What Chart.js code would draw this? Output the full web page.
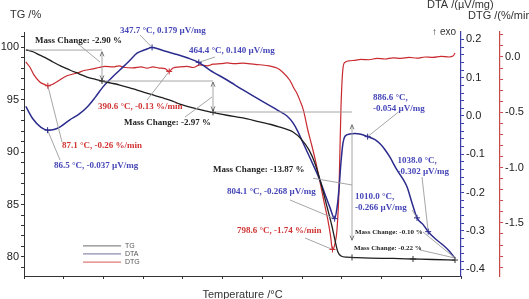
<!DOCTYPE html>
<html>
<head>
<meta charset="utf-8">
<script src="https://cdn.jsdelivr.net/npm/chart.js@4.4.1/dist/chart.umd.min.js"></script>
<style>
  html, body { margin: 0; padding: 0; background: #fff; }
  #wrap { width: 529px; height: 299px; }
</style>
</head>
<body>
<div id="wrap"><canvas id="chart" width="529" height="299"></canvas></div>
<script>
// TG curve (mass %, left axis)
const tgTemp = [32, 50, 67, 85, 100, 120, 142, 165, 185, 205, 222, 245, 267, 290, 310, 330, 350, 370, 392, 417, 450, 497, 535, 575, 617, 645, 667, 685, 700, 720, 740, 755, 770, 785, 797, 805, 812, 820, 835, 860, 892, 950, 1000, 1050, 1105];
const tgValue = [99.72, 99.55, 99.22, 98.9, 98.57, 98.18, 97.81, 97.45, 97.14, 96.93, 96.76, 96.57, 96.38, 96.14, 95.9, 95.66, 95.43, 95.2, 94.95, 94.57, 94.2, 93.78, 93.5, 93.24, 92.86, 92.62, 92.38, 92.15, 91.9, 91.25, 90.2, 88.9, 87.0, 84.8, 83.0, 81.6, 80.5, 80.1, 79.98, 79.94, 79.9, 79.86, 79.81, 79.76, 79.71];

// DTA curve (µV/mg, first right axis)
const dtaTemp = [32, 50, 70, 87, 100, 117, 142, 165, 185, 205, 225, 245, 267, 290, 310, 330, 348, 375, 405, 435, 464, 492, 535, 575, 617, 660, 685, 700, 712, 725, 745, 767, 782, 792, 804, 810, 815, 820, 825, 830, 842, 855, 867, 887, 905, 917, 930, 942, 960, 975, 985, 997, 1010, 1025, 1038, 1055, 1075, 1090, 1105];
const dtaValue = [0.025, -0.008, -0.03, -0.037, -0.036, -0.029, -0.01, 0.005, 0.023, 0.048, 0.076, 0.098, 0.12, 0.143, 0.164, 0.173, 0.179, 0.171, 0.162, 0.152, 0.14, 0.12, 0.094, 0.068, 0.042, 0.016, 0.0, -0.018, -0.04, -0.07, -0.115, -0.167, -0.21, -0.238, -0.268, -0.24, -0.19, -0.12, -0.07, -0.053, -0.047, -0.046, -0.047, -0.054, -0.062, -0.072, -0.088, -0.107, -0.141, -0.165, -0.185, -0.225, -0.266, -0.283, -0.302, -0.32, -0.337, -0.352, -0.371];

// DTG curve (%/min, second right axis)
const dtgTemp = [32, 42, 52, 67, 80, 87, 100, 117, 135, 160, 180, 200, 215, 230, 250, 265, 280, 300, 320, 335, 350, 365, 380, 390, 400, 417, 435, 450, 467, 485, 500, 520, 535, 555, 575, 595, 617, 640, 660, 675, 692, 702, 710, 717, 726, 737, 747, 757, 767, 777, 787, 794, 798.6, 804, 810, 815, 820, 825, 830, 840, 855, 870, 890, 910, 930, 950, 970, 990, 1010, 1030, 1050, 1070, 1090, 1100, 1105];
const dtgValue = [-0.045, -0.09, -0.16, -0.226, -0.25, -0.26, -0.245, -0.208, -0.17, -0.145, -0.12, -0.108, -0.095, -0.085, -0.09, -0.08, -0.095, -0.099, -0.09, -0.1, -0.09, -0.1, -0.105, -0.13, -0.1, -0.09, -0.085, -0.095, -0.072, -0.08, -0.065, -0.06, -0.054, -0.06, -0.055, -0.062, -0.07, -0.08, -0.1, -0.14, -0.21, -0.28, -0.33, -0.39, -0.48, -0.66, -0.8, -0.95, -1.12, -1.3, -1.47, -1.62, -1.74, -1.7, -1.56, -1.2, -0.45, -0.1, -0.048, -0.035, -0.03, -0.022, -0.025, -0.012, -0.018, -0.008, -0.012, -0.004, -0.01, 0.0, -0.004, 0.005, 0.0, 0.008, 0.035];

const xTicks = [200, 400, 600, 800, 1000];

const BLACK = '#1e1e1e';
const BLUE = '#2c2c8e';
const RED = '#c92a30';
const BLUE_TEXT = '#4646b8';
const RED_TEXT = '#d03434';
const GUIDE = '#9c9c9c';

// peak labels: text position in (temperature, TG) units, leader start, marked point on its own axis
const notes = [
  { lines: ['347.7 °C, 0.179 µV/mg'], color: BLUE_TEXT, at: [267.5, 101.52], lead: [317.5, 101.14], mark: [347.7, 0.179], axis: 'yDTA' },
  { lines: ['464.4 °C, 0.140 µV/mg'], color: BLUE_TEXT, at: [440, 99.62], lead: [505, 99.05], mark: [464.4, 0.140], axis: 'yDTA' },
  { lines: ['390.6 °C, -0.13 %/min'], color: RED_TEXT, at: [212.5, 94.29], lead: [335, 94.95], mark: [390.6, -0.13], axis: 'yDTG' },
  { lines: ['87.1 °C, -0.26 %/min'], color: RED_TEXT, at: [122.5, 90.57], lead: [122.5, 90.95], mark: [87.1, -0.26], axis: 'yDTG' },
  { lines: ['86.5 °C, -0.037 µV/mg'], color: BLUE_TEXT, at: [102.5, 88.67], lead: [117.5, 89.24], mark: [86.5, -0.037], axis: 'yDTA' },
  { lines: ['804.1 °C, -0.268 µV/mg'], color: BLUE_TEXT, at: [535, 86.19], lead: [692.5, 85.43], mark: [804.1, -0.268], axis: 'yDTA' },
  { lines: ['798.6 °C, -1.74 %/min'], color: RED_TEXT, at: [560, 82.48], lead: [730, 81.81], mark: [798.6, -1.74], axis: 'yDTG' },
  { lines: ['886.6 °C,', '-0.054 µV/mg'], color: BLUE_TEXT, at: [900, 95.14], lead: [970, 94.0], mark: [886.6, -0.054], axis: 'yDTA' },
  { lines: ['1010.0 °C,', '-0.266 µV/mg'], color: BLUE_TEXT, at: [855, 85.71], lead: [997.5, 84.48], mark: [1010.0, -0.266], axis: 'yDTA' },
  { lines: ['1038.0 °C,', '-0.302 µV/mg'], color: BLUE_TEXT, at: [961, 89.14], lead: [1022.5, 87.62], mark: [1038.0, -0.302], axis: 'yDTA' },
];

// mass change labels and their guide lines, all in (temperature, TG) units
const massNotes = [
  { text: 'Mass Change: -2.90 %', at: [55, 100.57], size: 9 },
  { text: 'Mass Change: -2.97 %', at: [277.5, 92.76], size: 9 },
  { text: 'Mass Change: -13.87 %', at: [500, 88.29], size: 9 },
  { text: 'Mass Change: -0.10 %', at: [855, 82.38], size: 7 },
  { text: 'Mass Change: -0.22 %', at: [852.5, 80.86], size: 7 },
];
const guides = [
  { from: [37.5, 99.71], to: [222.5, 99.71] },
  { from: [222.5, 99.55], to: [222.5, 96.85], both: true },
  { from: [222.5, 96.76], to: [500, 96.76] },
  { from: [500, 96.66], to: [500, 93.9], both: true },
  { from: [500, 93.81], to: [847.5, 93.81] },
  { from: [847.5, 92.6], to: [847.5, 81.6], both: true },
  { from: [160, 100.38], to: [217.5, 98.57] },
  { from: [430, 93.33], to: [497.5, 95.24] },
  { from: [750, 87.5], to: [847.5, 86.86] },
  { from: [1025, 82.38], to: [1105, 79.9] },
  { from: [1017.5, 80.67], to: [1105, 79.9] },
];
const tgMarks = [[222.5, 96.76], [500, 93.78], [847.5, 79.96], [1000, 79.81], [1105, 79.71]];

const legendItems = [
  { label: 'TG', color: '#8a8a8a', y: 81.05 },
  { label: 'DTA', color: '#8c8cb0', y: 80.29 },
  { label: 'DTG', color: '#e07a7a', y: 79.52 },
];

function toPoints(xs, ys) {
  return xs.map((x, i) => ({ x, y: ys[i] }));
}

function cross(ctx, x, y, color) {
  ctx.strokeStyle = color;
  ctx.lineWidth = 1;
  ctx.beginPath();
  ctx.moveTo(x - 3, y); ctx.lineTo(x + 3, y);
  ctx.moveTo(x, y - 3); ctx.lineTo(x, y + 3);
  ctx.stroke();
}

function arrowHead(ctx, x1, y1, x2, y2) {
  const a = Math.atan2(y2 - y1, x2 - x1);
  ctx.beginPath();
  ctx.moveTo(x2, y2);
  ctx.lineTo(x2 - 5 * Math.cos(a - 0.4), y2 - 5 * Math.sin(a - 0.4));
  ctx.moveTo(x2, y2);
  ctx.lineTo(x2 - 5 * Math.cos(a + 0.4), y2 - 5 * Math.sin(a + 0.4));
  ctx.stroke();
}

const notesPlugin = {
  id: 'notes',
  afterDraw(chart) {
    const { ctx, chartArea } = chart;
    const sx = chart.scales.x;
    const ty = chart.scales.yTG;
    const px = (t) => sx.getPixelForValue(t);
    const py = (v) => ty.getPixelForValue(v);
    ctx.save();

    // guides
    ctx.strokeStyle = GUIDE;
    ctx.lineWidth = 0.9;
    for (const g of guides) {
      const x1 = px(g.from[0]), y1 = py(g.from[1]), x2 = px(g.to[0]), y2 = py(g.to[1]);
      ctx.beginPath(); ctx.moveTo(x1, y1); ctx.lineTo(x2, y2); ctx.stroke();
      if (g.both) {
        ctx.strokeStyle = '#666';
        arrowHead(ctx, x1, y1, x2, y2);
        arrowHead(ctx, x2, y2, x1, y1);
        ctx.strokeStyle = GUIDE;
      }
    }

    // leaders + peak marks
    for (const n of notes) {
      const ax = chart.scales[n.axis];
      const mx = px(n.mark[0]), my = ax.getPixelForValue(n.mark[1]);
      ctx.strokeStyle = GUIDE;
      ctx.lineWidth = 0.9;
      ctx.beginPath(); ctx.moveTo(px(n.lead[0]), py(n.lead[1])); ctx.lineTo(mx, my); ctx.stroke();
      cross(ctx, mx, my, n.axis === 'yDTA' ? BLUE : RED);
    }
    for (const m of tgMarks) cross(ctx, px(m[0]), py(m[1]), '#333');

    // label texts
    ctx.textBaseline = 'middle';
    ctx.textAlign = 'left';
    for (const n of notes) {
      ctx.fillStyle = n.color;
      ctx.font = 'bold 9px "Liberation Serif"';
      n.lines.forEach((line, i) => ctx.fillText(line, px(n.at[0]), py(n.at[1]) + i * 10.5));
    }
    for (const m of massNotes) {
      ctx.fillStyle = '#222';
      ctx.font = `bold ${m.size}px "Liberation Serif"`;
      ctx.fillText(m.text, px(m.at[0]), py(m.at[1]));
    }

    // legend
    ctx.font = '7px "Liberation Sans"';
    for (const item of legendItems) {
      const y = py(item.y);
      ctx.strokeStyle = item.color;
      ctx.lineWidth = 1.2;
      ctx.beginPath(); ctx.moveTo(px(175), y); ctx.lineTo(px(270), y); ctx.stroke();
      ctx.fillStyle = '#555';
      ctx.fillText(item.label, px(280), y);
    }

    // axis titles
    ctx.fillStyle = '#333';
    ctx.font = '11px "Liberation Sans"';
    ctx.fillText('TG /%', 10, 15);
    ctx.fillText('DTA /(µV/mg)', 427, 5);
    ctx.fillText('DTG /(%/min)', 468, 16);
    ctx.font = '10px "Liberation Sans"';
    ctx.textAlign = 'right';
    ctx.fillText('↑ exo', chartArea.right - 5, chartArea.top);
    ctx.font = '11px "Liberation Sans"';
    ctx.textAlign = 'center';
    ctx.fillText('Temperature /°C', (chartArea.left + chartArea.right) / 2, 295);
    ctx.restore();
  },
};

const tickFont = { family: 'Liberation Sans', size: 11 };

function isNear(v, step) {
  return Math.abs(v / step - Math.round(v / step)) < 1e-6;
}

new Chart(document.getElementById('chart'), {
  type: 'line',
  data: {
    datasets: [
      { label: 'TG', data: toPoints(tgTemp, tgValue), yAxisID: 'yTG', borderColor: BLACK, borderWidth: 1.3 },
      { label: 'DTA', data: toPoints(dtaTemp, dtaValue), yAxisID: 'yDTA', borderColor: BLUE, borderWidth: 1.5 },
      { label: 'DTG', data: toPoints(dtgTemp, dtgValue), yAxisID: 'yDTG', borderColor: RED, borderWidth: 1.2 },
    ],
  },
  options: {
    responsive: false,
    devicePixelRatio: 1,
    animation: false,
    layout: { padding: { top: 32, left: 0, right: 0, bottom: 0 } },
    elements: {
      point: { radius: 0 },
      line: { cubicInterpolationMode: 'monotone', fill: false },
    },
    plugins: { legend: { display: false }, tooltip: { enabled: false } },
    scales: {
      x: {
        type: 'linear',
        min: 27.5,
        max: 1120,
        afterFit: (s) => { s.height = 23; },
        border: { color: '#333', width: 1 },
        grid: { drawOnChartArea: false, tickLength: 3, tickColor: '#333' },
        ticks: {
          stepSize: 100, includeBounds: false, autoSkip: false, maxRotation: 0, padding: 1,
          color: '#222', font: tickFont,
          callback: (v) => (xTicks.includes(v) ? String(v) : ''),
        },
      },
      yTG: {
        position: 'left',
        min: 78.19,
        max: 101.43,
        afterFit: (s) => { s.width = 24; },
        border: { color: '#333', width: 1 },
        grid: { drawOnChartArea: false, tickLength: 3, tickColor: '#333' },
        ticks: {
          stepSize: 1, includeBounds: false, autoSkip: false, padding: 2,
          color: '#222', font: tickFont,
          callback: (v) => (isNear(v, 5) ? String(Math.round(v)) : ''),
        },
      },
      yDTA: {
        position: 'right',
        weight: 0,
        min: -0.4178,
        max: 0.2193,
        afterFit: (s) => { s.width = 39; },
        border: { color: '#3a3aa8', width: 1.2 },
        grid: { drawOnChartArea: false, tickLength: 3, tickColor: '#3a3aa8' },
        ticks: {
          stepSize: 0.02, includeBounds: false, autoSkip: false, padding: 2,
          color: '#222', font: tickFont,
          callback: (v) => (isNear(v, 0.1) ? (Math.round(v * 10) / 10).toFixed(1).replace('-0.0', '0.0') : ''),
        },
      },
      yDTG: {
        position: 'right',
        weight: 1,
        min: -1.98,
        max: 0.226,
        afterFit: (s) => { s.width = 29; },
        border: { color: '#c84848', width: 1.2 },
        grid: { drawOnChartArea: false, tickLength: 3, tickColor: '#c84848' },
        ticks: {
          stepSize: 0.1, includeBounds: false, autoSkip: false, padding: 2,
          color: '#222', font: tickFont,
          callback: (v) => (isNear(v, 0.5) ? (Math.round(v * 2) / 2).toFixed(1).replace('-0.0', '0.0') : ''),
        },
      },
    },
  },
  plugins: [notesPlugin],
});
</script>
</body>
</html>
